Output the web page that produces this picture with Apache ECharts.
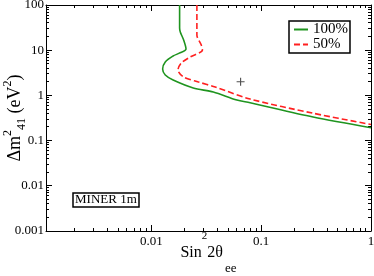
<!DOCTYPE html>
<html><head><meta charset="utf-8">
<script src="https://cdn.jsdelivr.net/npm/echarts@6/dist/echarts.min.js"></script>
<style>html,body{margin:0;padding:0;background:#fff}#c{width:374px;height:276px}</style>
</head><body><div id="c"></div>
<script>
// ---- data ----
const xMajorTicks = [0.01, 0.1, 1];
const xMinorTicks = [0.002,0.003,0.004,0.005,0.006,0.007,0.008,0.009,
                     0.02,0.03,0.04,0.05,0.06,0.07,0.08,0.09,
                     0.2,0.3,0.4,0.5,0.6,0.7,0.8,0.9];
const yMajorTicks = [0.001, 0.01, 0.1, 1, 10, 100];
const yMinorTicks = [0.002,0.003,0.004,0.005,0.006,0.007,0.008,0.009,
                     0.02,0.03,0.04,0.05,0.06,0.07,0.08,0.09,
                     0.2,0.3,0.4,0.5,0.6,0.7,0.8,0.9,
                     2,3,4,5,6,7,8,9,
                     20,30,40,50,60,70,80,90];
const seriesNames = ['100%', '50%'];
const green100X = [0.0181,0.0181,0.01836,0.0197,0.0207,0.0180,0.0158,0.0134,0.01268,0.0134,0.0158,0.0241,0.0367,0.0601,0.0794,0.297,1];
const green100Y = [100,31,25.3,16.8,10.6,8.6,7.45,5.5,3.84,2.82,2.19,1.46,1.19,0.79,0.689,0.333,0.193];
const red50X = [0.026,0.026,0.0285,0.0292,0.0226,0.01874,0.0175,0.0197,0.0269,0.0382,0.0794,0.299,1];
const red50Y = [100,21.7,13,10.1,7.08,5.2,3.65,2.55,1.98,1.53,0.83,0.402,0.227];
const markerX = [0.065];
const markerY = [2];
const xMin = 0.0011, xMax = 1, yMin = 0.001, yMax = 100;

const FONT = 'Liberation Serif';
const zip = (a, b) => a.map((v, i) => [v, b[i]]);
const fmt = v => String(+(+v).toPrecision(3));

function xAx(pos, labels) {
  return {
    type: 'log', logBase: 10, min: xMin, max: xMax, position: pos,
    axisLine: {show: true, onZero: false, lineStyle: {color: '#000', width: 1}},
    axisTick: {show: false},
    axisLabel: labels ? {show: true, customValues: labels, formatter: fmt, margin: 4,
      fontFamily: FONT, fontSize: 13, color: '#000'} : {show: false},
    splitLine: {show: false}, minorTick: {show: false}
  };
}
function yAx(pos, labels) {
  return {
    type: 'log', logBase: 10, min: yMin, max: yMax, position: pos,
    axisLine: {show: true, onZero: false, lineStyle: {color: '#000', width: 1}},
    axisTick: {show: false},
    axisLabel: labels ? {show: true, customValues: labels, formatter: fmt, margin: 2,
      fontFamily: FONT, fontSize: 13, color: '#000'} : {show: false},
    splitLine: {show: false}, minorTick: {show: false}
  };
}

const xAxes = [xAx('bottom', xMajorTicks), xAx('top', null)];
Object.assign(xAxes[0], {
  name: '{a|Sin}{sup|2}{a|2θ}{sub|ee}', nameLocation: 'middle', nameGap: -0.5, nameMoveOverlap: false,
  nameTextStyle: {fontFamily: FONT, fontSize: 16, color: '#000',
    rich: {
      a: {fontFamily: FONT, fontSize: 16, color: '#000', lineHeight: 45},
      sup: {fontFamily: FONT, fontSize: 11, color: '#000', lineHeight: 33, verticalAlign: 'top'},
      sub: {fontFamily: FONT, fontSize: 13, color: '#000', lineHeight: 11, verticalAlign: 'bottom', padding: [0, 0, 0, 2]}
    }}
});
const yAxes = [yAx('left', yMajorTicks), yAx('right', null)];
Object.assign(yAxes[0], {
  name: '{a|Δm}{sup|2}{sub|41}{a| (eV}{sup|2}{a|)}', nameLocation: 'middle', nameRotate: 90, nameGap: 18,
  nameMoveOverlap: false,
  nameTextStyle: {fontFamily: FONT, fontSize: 18, color: '#000',
    rich: {
      a: {fontFamily: FONT, fontSize: 18, color: '#000', lineHeight: 26},
      sup: {fontFamily: FONT, fontSize: 12, color: '#000', lineHeight: 6, verticalAlign: 'top'},
      sub: {fontFamily: FONT, fontSize: 12, color: '#000', lineHeight: 18, verticalAlign: 'bottom'}
    }}
});

// tick marks drawn through the axes with a custom series
function tickSeries(data, dx, dy) {
  return {
    type: 'custom', data: data, clip: false, z: 2,
    xAxisIndex: 0, yAxisIndex: 0, encode: {x: 0, y: 1},
    renderItem: function (params, api) {
      const p = api.coord([api.value(0), api.value(1)]);
      const x = dx === 0 ? Math.round(p[0] - 0.5) + 0.5 : Math.round(p[0]);
      const y = dy === 0 ? Math.round(p[1] - 0.5) + 0.5 : Math.round(p[1]);
      return {type: 'line', shape: {x1: x, y1: y, x2: x + dx, y2: y + dy},
        style: {stroke: '#000', lineWidth: 1, fill: null}};
    }
  };
}
const tickSeriesList = [
  tickSeries(xMajorTicks.map(v => [v, yMin]), 0, -6),
  tickSeries(xMajorTicks.map(v => [v, yMax]), 0, 6),
  tickSeries(xMinorTicks.map(v => [v, yMin]), 0, -3),
  tickSeries(xMinorTicks.map(v => [v, yMax]), 0, 3),
  tickSeries(yMajorTicks.map(v => [xMin, v]), 6, 0),
  tickSeries(yMajorTicks.map(v => [xMax, v]), -6, 0),
  tickSeries(yMinorTicks.map(v => [xMin, v]), 3, 0),
  tickSeries(yMinorTicks.map(v => [xMax, v]), -3, 0)
];

const chart = echarts.init(document.getElementById('c'), null, {renderer: 'canvas'});
chart.setOption({
  animation: false,
  backgroundColor: '#fff',
  grid: {left: 46, right: 3, top: 5, bottom: 45, containLabel: false, outerBoundsMode: 'none'},
  xAxis: xAxes,
  yAxis: yAxes,
  title: {
    text: 'MINER 1m', left: 73, top: 193, padding: [0, 2],
    borderColor: '#000', borderWidth: 1.5,
    textStyle: {fontFamily: FONT, fontSize: 13, fontWeight: 'normal', color: '#000', lineHeight: 14}
  },
  legend: {
    data: seriesNames, orient: 'vertical', left: 289, top: 21,
    itemWidth: 14, itemHeight: 10, itemGap: 0, padding: [1, 2, 1, 4],
    borderColor: '#000', borderWidth: 1.5, borderRadius: 0, backgroundColor: '#fff',
    itemStyle: {opacity: 0},
    textStyle: {fontFamily: FONT, fontSize: 15, color: '#000', lineHeight: 15}
  },
  series: [
    {name: seriesNames[0], type: 'line', data: zip(green100X, green100Y), symbol: 'none', smooth: 0.3,
      lineStyle: {color: '#1f941f', width: 1.6}, itemStyle: {color: '#1f941f'}, z: 3},
    {name: seriesNames[1], type: 'line', data: zip(red50X, red50Y), symbol: 'none', smooth: 0.3,
      lineStyle: {color: '#ff2020', width: 1.6, type: [6, 3]}, itemStyle: {color: '#ff2020'}, z: 3},
    {name: 'marker', type: 'scatter', data: zip(markerX, markerY),
      symbol: 'path://M4.3,0H5.7V4.3H10V5.7H5.7V10H4.3V5.7H0V4.3H4.3Z', symbolSize: 8,
      itemStyle: {color: '#222'}, z: 4}
  ].concat(tickSeriesList)
});
</script></body></html>
